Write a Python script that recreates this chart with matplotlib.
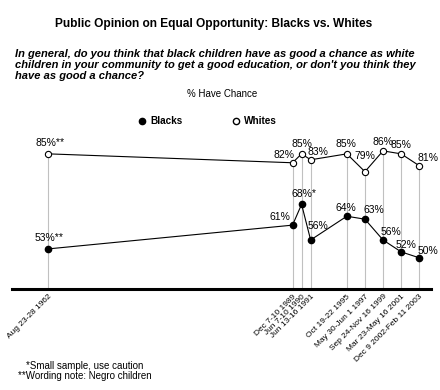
import numpy as np
import matplotlib
matplotlib.use("Agg")
import matplotlib.pyplot as plt

plt.rcParams['font.family'] = ['Liberation Sans', 'DejaVu Sans']

# Survey dates and their position on the time axis (year)
dates = ['Aug 23-28 1962', 'Dec 7-10 1989', 'Jun 7-10 1990', 'Jun 13-16 1991',
         'Oct 19-22 1995', 'May 30-Jun 1 1997', 'Sep 24-Nov 16 1999',
         'Mar 23-May 16 2001', 'Dec 9 2002-Feb 11 2003']
years = [1962, 1989, 1990, 1991, 1995, 1997, 1999, 2001, 2003]

# % saying black children have as good a chance
blacks = [53, 61, 68, 56, 64, 63, 56, 52, 50]
whites = [85, 82, 85, 83, 85, 79, 86, 85, 81]
blacks_notes = ['**', '', '*', '', '', '', '', '', '']
whites_notes = ['**', '', '', '', '', '', '', '', '']

# label offsets in pixels (dx, dy) from the marker to the label centre
blacks_off = [(1, 11), (-13, 8), (2, 10), (7, 14), (-1, 8), (9, 9), (8, 8), (5, 7), (9, 7)]
whites_off = [(2, 11), (-9, 8), (0, 10), (7, 8), (-1, 10), (0, 16), (0, 9), (0, 9), (9, 8)]

fig = plt.figure(figsize=(4.4, 3.9), dpi=100)
ax = fig.add_axes([12 / 440, 1 - 289 / 390, (431 - 12) / 440, 150 / 390])
ax.set_xlim(1958, 2004.3)
ax.set_ylim(39.5, 90)

top = np.maximum(blacks, whites)
ax.vlines(years, 39.5, top, color='#c0c0c0', linewidth=0.8, zorder=1)

ax.plot(years, whites, color='black', linewidth=0.8, marker='o', markersize=4.5,
        markerfacecolor='white', markeredgecolor='black', markeredgewidth=0.8, zorder=3)
ax.plot(years, blacks, color='black', linewidth=0.8, marker='o', markersize=4.5,
        markerfacecolor='black', markeredgecolor='black', zorder=3)

for series, notes, offs in [(whites, whites_notes, whites_off),
                            (blacks, blacks_notes, blacks_off)]:
    for x, v, n, (dx, dy) in zip(years, series, notes, offs):
        ax.annotate(f'{v}%{n}', (x, v), xytext=(dx * 0.72, dy * 0.72),
                    textcoords='offset points', ha='center', va='center', fontsize=7.5)

for s in ['top', 'left', 'right']:
    ax.spines[s].set_visible(False)
ax.spines['bottom'].set_linewidth(2.2)
ax.set_yticks([])
ax.set_xticks(years)
ax.set_xticklabels(dates, rotation=45, ha='right', rotation_mode='anchor', fontsize=6)
ax.tick_params(axis='x', length=0, pad=3)

fig.text(214 / 440, 1 - 24 / 390, 'Public Opinion on Equal Opportunity: Blacks vs. Whites',
         ha='center', va='center', fontsize=8.6, fontweight='bold')
fig.text(15 / 440, 1 - 65 / 390,
         "In general, do you think that black children have as good a chance as white\n"
         "children in your community to get a good education, or don't you think they\n"
         "have as good a chance?",
         ha='left', va='center', fontsize=8.05, fontweight='bold', style='italic',
         linespacing=1.14)
fig.text(222 / 440, 1 - 94 / 390, '% Have Chance', ha='center', va='center', fontsize=7)

# legend
fig.legend(handles=[
    plt.Line2D([], [], linestyle='none', marker='o', markersize=4.5, color='black'),
    plt.Line2D([], [], linestyle='none', marker='o', markersize=4.5,
               markerfacecolor='white', markeredgecolor='black')],
    labels=['Blacks', 'Whites'], loc='center', bbox_to_anchor=(207 / 440, 1 - 121 / 390),
    ncol=2, frameon=False, prop={'weight': 'bold', 'size': 7.2}, handletextpad=0.3,
    columnspacing=4.8, handlelength=1)

fig.text(85 / 440, 1 - 371 / 390,
         '*Small sample, use caution\n**Wording note: Negro children',
         ha='center', va='center', fontsize=7, linespacing=1.0)

fig.savefig('out.png', dpi=100)
